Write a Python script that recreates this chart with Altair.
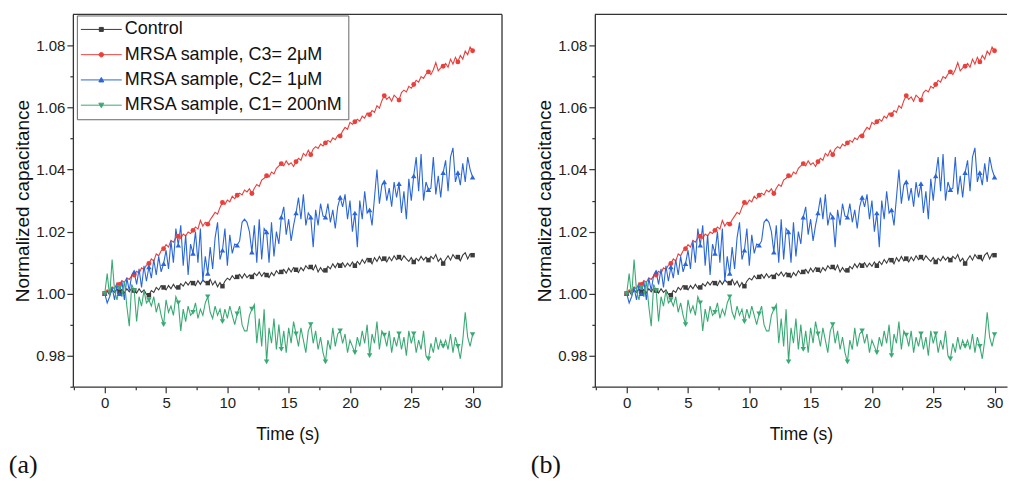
import altair as alt
import pandas as pd

time_s = [round(0.2 * i, 1) for i in range(151)]

control = [
    1.000, 1.0008, 0.9996, 1.0012, 1.0004, 1.0015,
    1.0005, 1.0014, 1.0002, 1.0016, 1.0006, 1.0018,
    1.001, 1.0002, 1.0016, 1.0004, 1.0012, 0.9998,
    0.9995, 1.0010, 1.0004, 1.0020, 1.0012, 1.0026,
    1.002, 1.0012, 1.0026, 1.0016, 1.0030, 1.0018,
    1.002, 1.0032, 1.0024, 1.0038, 1.0028, 1.0040,
    1.0034, 1.0026, 1.0042, 1.0030, 1.0044, 1.0036,
    1.0034, 1.0046, 1.0028, 1.0040, 1.0022, 1.0036,
    1.0024, 1.0040, 1.0050, 1.0044, 1.0058, 1.0048,
    1.0054, 1.0062, 1.0050, 1.0064, 1.0052, 1.0060,
    1.0054, 1.0066, 1.0058, 1.0070, 1.0056, 1.0068,
    1.006, 1.0052, 1.0068, 1.0058, 1.0074, 1.0064,
    1.007, 1.0078, 1.0066, 1.0082, 1.0070, 1.0084,
    1.0077, 1.0068, 1.0084, 1.0074, 1.0090, 1.0080,
    1.0086, 1.0076, 1.0092, 1.0070, 1.0084, 1.0072,
    1.0075, 1.0088, 1.0080, 1.0096, 1.0084, 1.0098,
    1.009, 1.0100, 1.0086, 1.0098, 1.0088, 1.0102,
    1.009, 1.0104, 1.0094, 1.0110, 1.0098, 1.0114,
    1.0108, 1.0096, 1.0116, 1.0104, 1.0120, 1.0106,
    1.0113, 1.0102, 1.0118, 1.0106, 1.0122, 1.0110,
    1.0118, 1.0108, 1.0122, 1.0112, 1.0104, 1.0116,
    1.0102, 1.0114, 1.0106, 1.0120, 1.0108, 1.0118,
    1.0108, 1.0120, 1.0112, 1.0126, 1.0104, 1.0114,
    1.0097, 1.0110, 1.0122, 1.0108, 1.0126, 1.0114,
    1.0118, 1.0106, 1.0124, 1.0132, 1.0112, 1.0128,
    1.0124,
]

c3_2uM = [
    1.000, 1.0012, 1.0005, 1.0022, 1.0015, 1.0035,
    1.003, 1.0042, 1.0036, 1.0051, 1.0046, 1.0058,
    1.006, 1.0072, 1.0066, 1.0083, 1.0078, 1.0092,
    1.0097, 1.0112, 1.0105, 1.0128, 1.0122, 1.0138,
    1.0145, 1.0158, 1.0150, 1.0172, 1.0166, 1.0180,
    1.0185, 1.0178, 1.0192, 1.0186, 1.0199, 1.0194,
    1.0204, 1.0215, 1.0208, 1.0236, 1.0218, 1.0230,
    1.0224, 1.0238, 1.0250, 1.0262, 1.0256, 1.0278,
    1.0294, 1.0288, 1.0302, 1.0296, 1.0314, 1.0306,
    1.0317, 1.0324, 1.0318, 1.0334, 1.0328, 1.0338,
    1.0323, 1.0340, 1.0352, 1.0346, 1.0366, 1.0372,
    1.0380, 1.0376, 1.0392, 1.0386, 1.0404, 1.0412,
    1.0419, 1.0412, 1.0428, 1.0416, 1.0422, 1.0410,
    1.0425, 1.0436, 1.0430, 1.0452, 1.0444, 1.0462,
    1.0448, 1.0466, 1.0474, 1.0468, 1.0482, 1.0476,
    1.0486, 1.0494, 1.0488, 1.0502, 1.0496, 1.0510,
    1.0508, 1.0524, 1.0536, 1.0530, 1.0552, 1.0546,
    1.0554, 1.0562, 1.0556, 1.0572, 1.0566, 1.0582,
    1.0577, 1.0590, 1.0584, 1.0606, 1.0598, 1.0622,
    1.0638, 1.0626, 1.0634, 1.0620, 1.0640, 1.0632,
    1.0624, 1.0648, 1.0656, 1.0650, 1.0668, 1.0662,
    1.0674, 1.0688, 1.0682, 1.0700, 1.0694, 1.0708,
    1.0715, 1.0706, 1.0722, 1.0745, 1.0718, 1.0728,
    1.0733, 1.0742, 1.0730, 1.0756, 1.0740, 1.0762,
    1.0747, 1.0768, 1.0756, 1.0782, 1.0770, 1.0795,
    1.0783,
]

c2_1uM = [
    1.000, 0.997, 0.999, 1.002, 0.998, 1.003,
    1.000, 1.004, 0.998, 1.005, 1.001, 1.006,
    1.007, 1.003, 1.008, 1.002, 1.009, 1.004,
    1.0086, 1.005, 1.011, 1.006, 1.012, 1.007,
    1.0097, 1.014, 1.008, 1.017, 1.010, 1.021,
    1.0156, 1.022, 1.009, 1.019, 1.006, 1.016,
    1.013, 1.020, 1.010, 1.021, 1.004, 1.012,
    1.0065, 1.015, 1.008, 1.018, 1.023, 1.011,
    1.014, 1.021, 1.009, 1.019, 1.013, 1.016,
    1.0156, 1.017, 1.023, 1.024, 1.023, 1.020,
    1.0134, 1.022, 1.010, 1.024, 1.011, 1.021,
    1.0199, 1.010, 1.023, 1.012, 1.020, 1.016,
    1.0247, 1.028, 1.019, 1.024, 1.017, 1.022,
    1.026, 1.031, 1.024, 1.032, 1.022, 1.026,
    1.0247, 1.015, 1.027, 1.022, 1.029, 1.025,
    1.0247, 1.029, 1.023, 1.027, 1.021, 1.028,
    1.031, 1.028, 1.032, 1.024, 1.030, 1.020,
    1.026, 1.015, 1.030, 1.024, 1.033, 1.026,
    1.027, 1.022, 1.031, 1.040, 1.029, 1.035,
    1.036, 1.030, 1.034, 1.028, 1.036, 1.031,
    1.0355, 1.026, 1.033, 1.024, 1.037, 1.030,
    1.038, 1.044, 1.033, 1.045, 1.030, 1.036,
    1.0335, 1.034, 1.044, 1.032, 1.038, 1.031,
    1.039, 1.043, 1.033, 1.044, 1.047, 1.036,
    1.039, 1.035, 1.042, 1.036, 1.044, 1.040,
    1.0376,
]

c1_200nM = [
    1.000, 1.0065, 0.999, 1.011, 1.001, 0.998,
    1.002, 0.999, 1.004, 0.996, 0.9895, 1.003,
    1.001, 0.991, 0.999, 0.996, 1.001, 0.997,
    0.998, 0.996, 0.999, 0.994, 0.997, 0.993,
    0.990, 0.998, 0.994, 0.996, 0.993, 0.999,
    0.997, 0.988, 0.995, 0.991, 0.996, 0.993,
    0.994, 0.997, 0.992, 0.995, 0.993, 0.997,
    0.999, 0.994, 0.992, 0.996, 0.993, 0.995,
    0.991, 0.995, 0.992, 0.996, 0.993, 0.990,
    0.9935, 0.996, 0.990, 0.988, 0.988, 0.993,
    0.995, 0.9965, 0.984, 0.992, 0.983, 0.995,
    0.978, 0.989, 0.984, 0.992, 0.982, 0.990,
    0.982, 0.988, 0.981, 0.989, 0.984, 0.991,
    0.987, 0.983, 0.989, 0.985, 0.981, 0.988,
    0.990, 0.984, 0.988, 0.982, 0.986, 0.981,
    0.978, 0.985, 0.982, 0.989, 0.983, 0.987,
    0.988, 0.984, 0.987, 0.981, 0.985, 0.983,
    0.981, 0.986, 0.983, 0.988, 0.984, 0.990,
    0.980, 0.987, 0.984, 0.991, 0.982, 0.988,
    0.9866, 0.983, 0.988, 0.981, 0.986, 0.983,
    0.987, 0.982, 0.986, 0.980, 0.988, 0.984,
    0.987, 0.981, 0.985, 0.982, 0.988, 0.980,
    0.979, 0.984, 0.981, 0.986, 0.982, 0.985,
    0.983, 0.985, 0.982, 0.987, 0.981, 0.986,
    0.983, 0.979, 0.985, 0.994, 0.986, 0.983,
    0.9868,
]

series_names = [
    "Control",
    "MRSA sample, C3= 2\u03bcM",
    "MRSA sample, C2= 1\u03bcM",
    "MRSA sample, C1= 200nM",
]
series_values = [control, c3_2uM, c2_1uM, c1_200nM]
series_colors = ["#3c3c3c", "#e8403c", "#2a66d8", "#3aaa74"]
marker_shapes = ["square", "circle", "triangle-up", "triangle-down"]
marker_sizes = [20, 24, 30, 30]

x_tick_values = [-2.5, 0, 2.5, 5, 7.5, 10, 12.5, 15, 17.5, 20, 22.5, 25, 27.5, 30, 32.5]
y_tick_values = [0.97, 0.98, 0.99, 1.00, 1.01, 1.02, 1.03, 1.04, 1.05, 1.06, 1.07, 1.08]

# legend symbols: a line with the marker in its middle (unit coords, r = sqrt(size)/2)
legend_paths = [
    "M-2,0H6.2M1.7,-0.4H2.5V0.4H1.7Z",
    "M-2,0H6.2M1.65,0A0.45,0.45 0 1,0 2.55,0A0.45,0.45 0 1,0 1.65,0Z",
    "M-2,0H6.2M2.1,-0.5L2.6,0.4H1.6Z",
    "M-2,0H6.2M2.1,0.5L2.6,-0.4H1.6Z",
]

rows = []
for name, vals in zip(series_names, series_values):
    for i, (t, v) in enumerate(zip(time_s, vals)):
        rows.append({"series": name, "t": t, "v": v, "idx": i})
df = pd.DataFrame(rows)

FONT = "Liberation Sans"
H = 373
X_MIN = -2.6
PX_PER_S = 430 / 35.0


def panel(W, tag, right_border):
    x_max = X_MIN + W / PX_PER_S
    xs = alt.Scale(domain=[X_MIN, x_max], nice=False, zero=False)
    ys = alt.Scale(domain=[0.97, 1.09], nice=False, zero=False)
    xv = [v for v in x_tick_values if X_MIN <= v <= x_max]
    xaxis = alt.Axis(
        values=xv, title="Time (s)", grid=False, labelOverlap=False,
        labelExpr="datum.value % 5 === 0 ? format(datum.value, 'd') : ''",
        tickSize={"condition": {"test": "datum.value % 5 !== 0", "value": 3}, "value": 6},
        labelPadding=3, titlePadding=15, titleFontSize=17.5,
    )
    yaxis = alt.Axis(
        values=y_tick_values, title="Normalized capacitance", grid=False, labelOverlap=False,
        labelExpr="round(datum.value * 100) % 2 === 0 ? format(datum.value, '.2f') : ''",
        tickSize={"condition": {"test": "round(datum.value * 100) % 2 !== 0", "value": 3}, "value": 6},
        labelPadding=2, titlePadding=3, titleFontSize=19,
    )
    X = alt.X("t:Q", scale=xs, axis=xaxis)
    Y = alt.Y("v:Q", scale=ys, axis=yaxis)
    base = alt.Chart(df)
    layers = []
    for name, col in zip(series_names, series_colors):
        layers.append(
            base.transform_filter(alt.datum.series == name)
            .mark_line(color=col, strokeWidth=1.1)
            .encode(x=X, y=Y)
        )
    for name, col, shp, sz in zip(series_names, series_colors, marker_shapes, marker_sizes):
        layers.append(
            base.transform_filter((alt.datum.series == name) & (alt.datum.idx % 6 == 0))
            .mark_point(shape=shp, filled=True, size=sz, color=col, opacity=1)
            .encode(x=X, y=Y)
        )
    leg = alt.Legend(
        title=None, orient="none", legendX=4, legendY=1,
        symbolSize=100, symbolStrokeWidth=1, symbolOpacity=1,
        labelFont=FONT, labelFontSize=18, labelColor="#111", labelOffset=25,
        labelLimit=400, rowPadding=7.3, padding=5,
        strokeColor="#666", fillColor="white",
    )
    cscale = alt.Scale(domain=series_names, range=series_colors)
    layers.append(
        base.transform_filter("datum.t < -100")
        .mark_point(filled=True, strokeWidth=1, opacity=1)
        .encode(
            x=X, y=Y,
            color=alt.Color("series:N", scale=cscale, legend=leg),
            stroke=alt.Stroke("series:N", scale=cscale, legend=leg),
            shape=alt.Shape("series:N", scale=alt.Scale(domain=series_names, range=legend_paths), legend=leg),
        )
    )
    frame = pd.DataFrame({"k": [0]})
    layers.append(
        alt.Chart(frame).mark_rule(color="#333", strokeWidth=1.3)
        .encode(x=alt.value(0), x2=alt.value(W), y=alt.value(0))
    )
    if right_border:
        layers.append(
            alt.Chart(frame).mark_rule(color="#333", strokeWidth=1.3)
            .encode(x=alt.value(W), y=alt.value(0), y2=alt.value(H))
        )
    return alt.layer(*layers).properties(
        width=W, height=H,
        title=alt.TitleParams(
            tag, orient="bottom", anchor="start", font="Liberation Serif",
            fontSize=26, fontWeight="normal", color="#111", offset=9, dx=-5,
        ),
    )


chart = (
    alt.hconcat(panel(430, "(a)", True), panel(413, "(b)", False), spacing=27)
    .properties(padding={"left": 0, "top": 5, "right": 0, "bottom": 0})
    .configure_view(stroke=None)
    .configure_axis(
        labelFont=FONT, labelFontSize=15, labelColor="#222",
        titleFont=FONT, titleFontWeight="normal", titleColor="#111",
        domainColor="#333", domainWidth=1.3, tickColor="#333", tickWidth=1.2,
    )
)

chart.save("out.html", embed_options={"renderer": "svg", "actions": False})
